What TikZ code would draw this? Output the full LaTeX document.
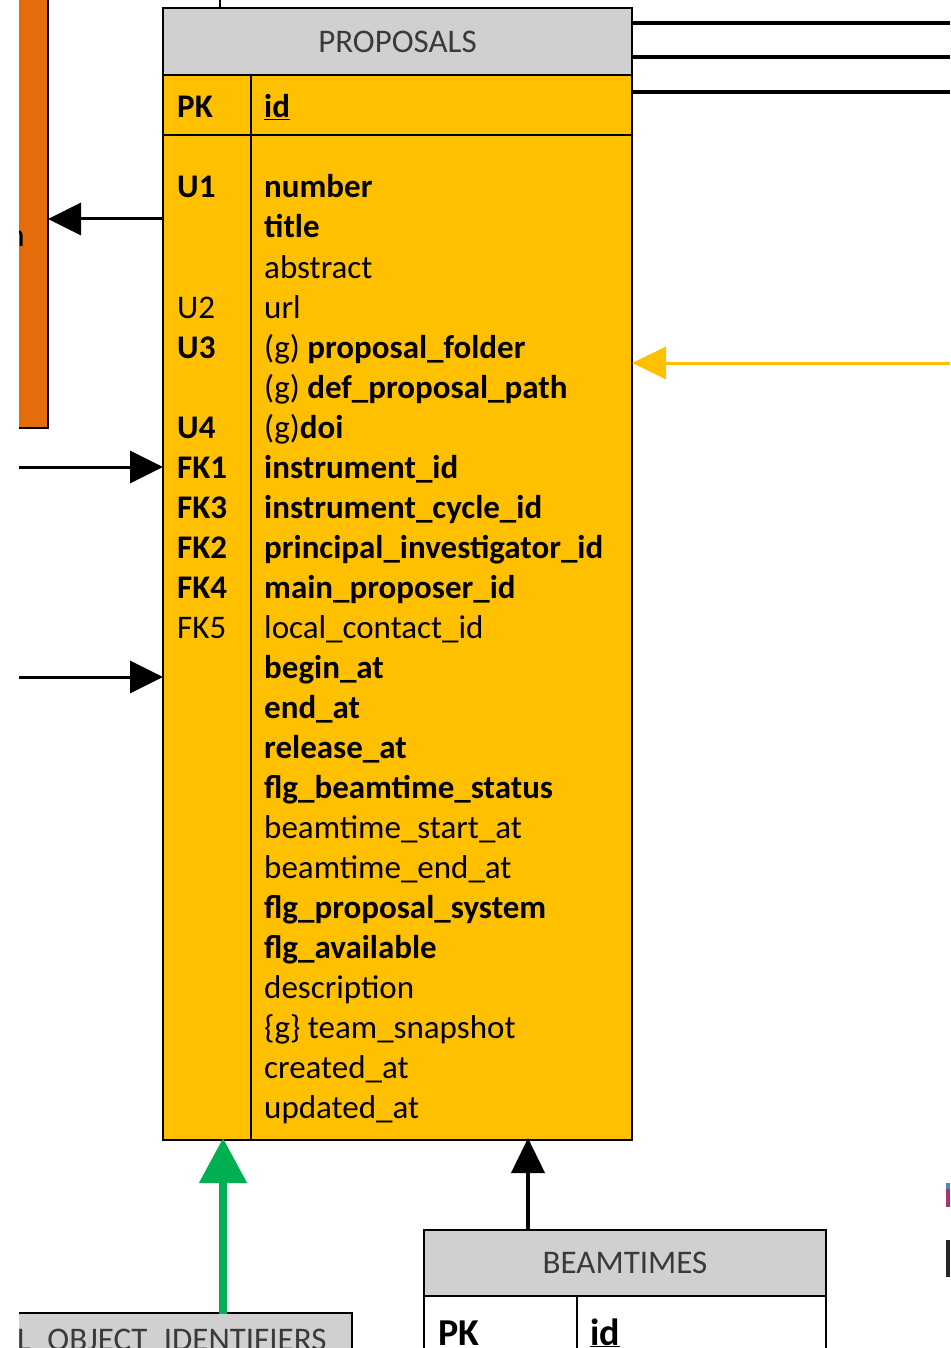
\documentclass[tikz,border=0pt]{standalone}
\usepackage{fontspec}
\setmainfont{Carlito}
\usetikzlibrary{arrows.meta}
\definecolor{tblgold}{HTML}{FFC000}
\definecolor{hdrgray}{HTML}{D0D0D0}
\definecolor{barorange}{HTML}{E46C0A}
\definecolor{linkgreen}{HTML}{00B050}
\definecolor{hdrtext}{HTML}{3A3A3A}
\definecolor{edgeblue}{HTML}{5B7FC0}
\definecolor{edgepink}{HTML}{B0336A}

\begin{document}
\begin{tikzpicture}[x=1pt,y=-1pt,
  box/.style={draw=black, line width=2.5pt, inner sep=0pt, outer sep=0pt, anchor=north west},
  tblline/.style={draw=black, line width=2.5pt},
  hdrlabel/.style={font=\fontsize{33}{40}\selectfont, text=hdrtext, inner sep=0pt},
  field/.style={font=\fontsize{33}{40}\selectfont, anchor=base west, inner sep=0pt},
  keylabel/.style={font=\fontsize{33}{40}\selectfont\bfseries, anchor=base west, inner sep=0pt},
  bigcell/.style={font=\fontsize{38}{44}\selectfont\bfseries, anchor=base west, inner sep=0pt},
  link/.style={draw=black, line width=3pt},
  fwd/.style={-{Triangle[length=33pt,width=32pt]}},
]
\useasboundingbox (0,0) rectangle (950,1348);
\clip (19,0) rectangle (950,1348);

% orange table partly visible on the left
\node[anchor=north west, fill=barorange, inner sep=0pt, outer sep=0pt,
      minimum width=29pt, minimum height=438pt] (bar) at (19,-10) {};
\draw[tblline] (bar.north east) -- (bar.south east) -- (bar.south west);
\node[font=\fontsize{33}{40}\selectfont, anchor=base east, inner sep=0pt] (barlabel) at (25,247) {n};

% PROPOSALS table
\node[box, fill=hdrgray, minimum width=469pt, minimum height=67pt] (prophead) at (163,8) {};
\node[hdrlabel] (proptitle) at (prophead.center) {PROPOSALS};
\node[box, fill=tblgold, minimum width=469pt, minimum height=60pt] (pkrow) at (163,75) {};
\node[box, fill=tblgold, minimum width=469pt, minimum height=1005pt] (body) at (163,135) {};
\draw[tblline] (251,75) -- (251,1140);

\node[keylabel] (pk) at (177,118) {PK};
\node[keylabel] (pkid) at (264,118) {\underline{id}};

% key column
\foreach \k/\r in {\textbf{U1}/0, U2/3, \textbf{U3}/4, \textbf{U4}/6,
                   \textbf{FK1}/7, \textbf{FK3}/8, \textbf{FK2}/9,
                   \textbf{FK4}/10, FK5/11}
  \node[field] (k\r) at (177,198+40*\r) {\k};

% field column
\foreach \txt [count=\i from 0] in {
  \textbf{number}, \textbf{title}, abstract, url,
  (g) \textbf{proposal\_folder}, (g) \textbf{def\_proposal\_path}, (g)\textbf{doi},
  \textbf{instrument\_id}, \textbf{instrument\_cycle\_id},
  \textbf{principal\_investigator\_id}, \textbf{main\_proposer\_id},
  local\_contact\_id, \textbf{begin\_at}, \textbf{end\_at}, \textbf{release\_at},
  \textbf{flg\_beamtime\_status}, beamtime\_start\_at, beamtime\_end\_at,
  \textbf{flg\_proposal\_system}, \textbf{flg\_available}, description,
  \{g\} team\_snapshot, created\_at, updated\_at}
  \node[field] (f\i) at (264,198+40*\i) {\txt};

% BEAMTIMES table
\node[box, fill=hdrgray, minimum width=402pt, minimum height=66pt] (beamhead) at (424,1230) {};
\node[hdrlabel] (beamtitle) at (beamhead.center) {BEAMTIMES};
\node[box, fill=white, minimum width=402pt, minimum height=90pt] (beampk) at (424,1296) {};
\draw[tblline] (577,1296) -- (577,1386);
\node[bigcell] (bpk) at (438,1345) {PK};
\node[bigcell] (bid) at (590,1345) {\underline{id}};

% object identifiers table, bottom left
\node[box, fill=hdrgray, minimum width=342pt, minimum height=70pt] (objhead) at (10,1313) {};
\node[hdrlabel, anchor=base west] (objtitle) at (17,1350) {L\_OBJECT\_IDENTIFIERS};

% edges of neighbouring shapes on the right
\fill[edgeblue] (946,1183) rectangle (950,1189);
\fill[edgepink] (946,1189) rectangle (950,1207);
\fill[black!85] (946,1240) rectangle (950,1277);

% connectors
\coordinate (topin) at (220,0);
\draw[black, line width=2pt] (topin) -- (topin |- prophead.north);

\foreach \y/\n in {23/r1, 57/r2, 92/r3} {
  \coordinate (\n) at (950,\y);
  \draw[black, line width=3.5pt] (\n -| prophead.east) -- (\n);
}

\coordinate (u1out) at (163,219);
\draw[link, fwd] (u1out) -- (u1out -| bar.east);

\coordinate (inA) at (19,467);
\draw[link, fwd] (inA) -- (inA -| body.west);
\coordinate (inB) at (19,677);
\draw[link, fwd] (inB) -- (inB -| body.west);

\coordinate (inY) at (950,363);
\draw[draw=tblgold, line width=3pt, -{Triangle[length=34pt,width=32pt]}] (inY) -- (inY -| body.east);

\coordinate (g0) at (223,1314);
\draw[draw=linkgreen, line width=8pt, -{Triangle[length=45pt,width=46pt]}, shorten >=-2pt] (g0) -- (g0 |- body.south);

\coordinate (b0) at (528,1230);
\draw[draw=black, line width=4pt, -{Triangle[length=35pt,width=33pt]}, shorten >=-2pt] (b0) -- (b0 |- body.south);
\end{tikzpicture}
\end{document}
